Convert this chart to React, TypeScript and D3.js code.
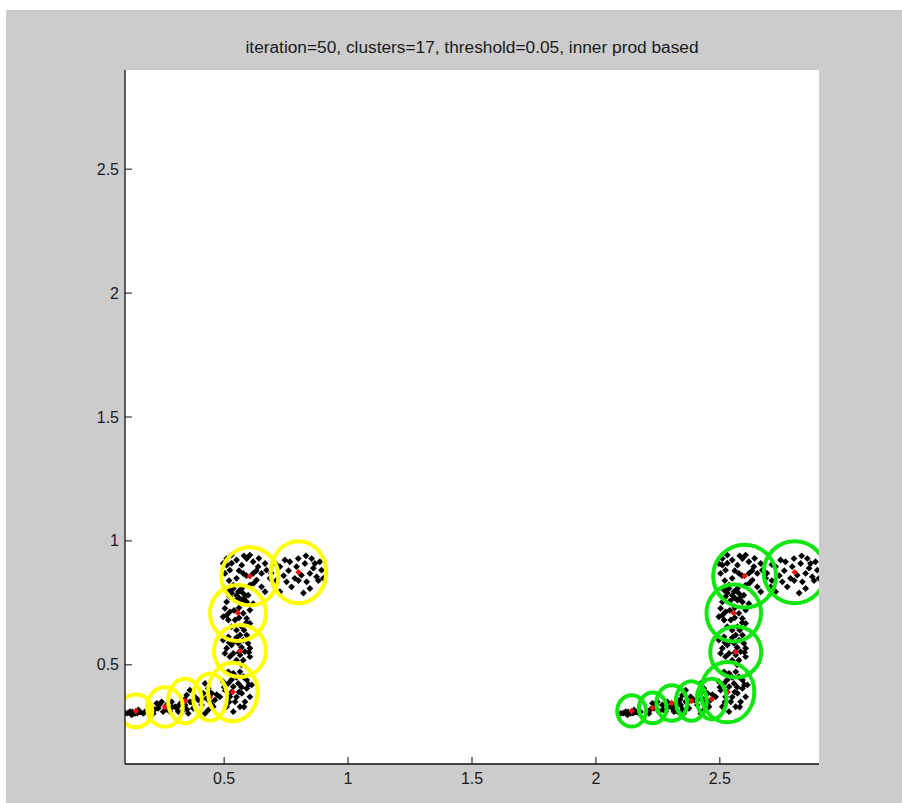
import React from "react";
import * as d3 from "d3";

const titleText = "iteration=50, clusters=17, threshold=0.05, inner prod based";
const xDomain = [0.1, 2.9];
const yDomain = [0.1, 2.9];
const xTicks = [0.5, 1, 1.5, 2, 2.5];
const yTicks = [0.5, 1, 1.5, 2, 2.5];
const tickLabels = ["0.5", "1", "1.5", "2", "2.5"];

const leftPoints: [number, number][] = [
  [0.671,0.882],[0.685,0.849],[0.705,0.815],[0.725,0.896],[0.745,0.923],[0.765,0.916],[0.785,0.849],[0.792,0.896],[0.812,0.862],[0.833,0.835],[0.846,0.808],[0.853,0.929],[0.866,0.909],[0.886,0.916],[0.893,0.882],[0.873,0.855],[0.772,0.815],[0.752,0.835],[0.725,0.795],[0.826,0.909],[0.846,0.869],[0.799,0.929],[0.9,0.849],
  [0.69,0.87],[0.71,0.905],[0.74,0.86],[0.76,0.88],[0.8,0.84],[0.82,0.79],[0.86,0.89],[0.88,0.84],[0.83,0.94],[0.71,0.84],
  [0.496,0.909],[0.51,0.929],[0.53,0.943],[0.55,0.923],[0.571,0.902],[0.591,0.929],[0.617,0.916],[0.637,0.896],[0.651,0.869],[0.631,0.842],[0.604,0.822],[0.577,0.869],[0.55,0.849],[0.523,0.882],[0.503,0.869],[0.537,0.822],[0.571,0.808],[0.651,0.815],[0.665,0.795],[0.617,0.869],[0.51,0.902],[0.604,0.943],[0.665,0.909],
  [0.52,0.84],[0.56,0.88],[0.59,0.86],[0.63,0.88],[0.64,0.93],[0.58,0.94],[0.53,0.91],[0.62,0.83],
  [0.517,0.802],[0.537,0.808],[0.557,0.795],[0.577,0.788],[0.597,0.781],[0.571,0.761],[0.544,0.761],[0.523,0.775],[0.591,0.754],[0.503,0.728],[0.523,0.714],[0.496,0.694],[0.517,0.681],[0.544,0.681],[0.577,0.708],[0.591,0.687],[0.604,0.721],[0.571,0.654],[0.55,0.64],[0.53,0.654],[0.604,0.667],[0.617,0.747],[0.51,0.754],
  [0.53,0.79],[0.55,0.78],[0.56,0.77],[0.58,0.77],[0.56,0.73],[0.54,0.72],[0.51,0.7],[0.56,0.69],[0.59,0.67],[0.58,0.64],
  [0.496,0.6],[0.517,0.613],[0.537,0.593],[0.557,0.587],[0.577,0.6],[0.597,0.587],[0.604,0.567],[0.584,0.553],[0.564,0.54],[0.537,0.546],[0.51,0.567],[0.523,0.533],[0.55,0.519],[0.577,0.519],[0.604,0.533],[0.503,0.546],[0.591,0.62],[0.564,0.62],
  [0.55,0.61],[0.53,0.58],[0.57,0.57],[0.59,0.6],[0.52,0.59],[0.56,0.55],[0.6,0.55],[0.57,0.5],
  [0.517,0.472],[0.537,0.466],[0.564,0.472],[0.577,0.452],[0.496,0.432],[0.517,0.425],[0.537,0.412],[0.503,0.398],[0.523,0.371],[0.544,0.351],[0.571,0.385],[0.591,0.405],[0.604,0.371],[0.584,0.351],[0.564,0.331],[0.537,0.311],[0.51,0.331],[0.591,0.439],[0.611,0.419],[0.483,0.371],[0.557,0.425],
  [0.55,0.45],[0.53,0.44],[0.5,0.41],[0.56,0.39],[0.52,0.35],[0.58,0.33],[0.6,0.42],[0.55,0.37],[0.53,0.39],[0.57,0.41],
  [0.423,0.425],[0.436,0.405],[0.416,0.385],[0.429,0.365],[0.443,0.351],[0.456,0.331],[0.436,0.318],[0.409,0.338],[0.396,0.358],[0.45,0.385],[0.463,0.358],[0.423,0.304],
  [0.44,0.39],[0.41,0.36],[0.45,0.34],[0.47,0.38],
  [0.362,0.398],[0.349,0.378],[0.329,0.351],[0.342,0.338],[0.362,0.351],[0.375,0.325],[0.329,0.311],[0.308,0.325],[0.355,0.304],[0.382,0.371],
  [0.34,0.36],[0.32,0.34],[0.37,0.35],[0.35,0.32],
  [0.228,0.345],[0.248,0.351],[0.268,0.338],[0.288,0.351],[0.302,0.331],[0.281,0.311],[0.254,0.311],[0.234,0.325],[0.315,0.311],[0.214,0.304],
  [0.24,0.34],[0.27,0.32],[0.29,0.33],[0.22,0.32],
  [0.1,0.304],[0.12,0.311],[0.14,0.304],[0.16,0.311],[0.174,0.304],[0.127,0.298],[0.154,0.318],
  [0.11,0.305],[0.15,0.305],[0.13,0.31],[0.18,0.31]
];

const rightPoints: [number, number][] = [
  [2.671,0.882],[2.685,0.849],[2.705,0.815],[2.725,0.896],[2.745,0.923],[2.765,0.916],[2.785,0.849],[2.792,0.896],[2.812,0.862],[2.833,0.835],[2.846,0.808],[2.853,0.929],[2.866,0.909],[2.886,0.916],[2.893,0.882],[2.873,0.855],[2.772,0.815],[2.752,0.835],[2.725,0.795],[2.826,0.909],[2.846,0.869],[2.799,0.929],[2.9,0.849],
  [2.69,0.87],[2.71,0.905],[2.74,0.86],[2.76,0.88],[2.8,0.84],[2.82,0.79],[2.86,0.89],[2.88,0.84],[2.83,0.94],[2.71,0.84],
  [2.496,0.909],[2.51,0.929],[2.53,0.943],[2.55,0.923],[2.571,0.902],[2.591,0.929],[2.617,0.916],[2.637,0.896],[2.651,0.869],[2.631,0.842],[2.604,0.822],[2.577,0.869],[2.55,0.849],[2.523,0.882],[2.503,0.869],[2.537,0.822],[2.571,0.808],[2.651,0.815],[2.665,0.795],[2.617,0.869],[2.51,0.902],[2.604,0.943],[2.665,0.909],
  [2.52,0.84],[2.56,0.88],[2.59,0.86],[2.63,0.88],[2.64,0.93],[2.58,0.94],[2.53,0.91],[2.62,0.83],
  [2.517,0.802],[2.537,0.808],[2.557,0.795],[2.577,0.788],[2.597,0.781],[2.571,0.761],[2.544,0.761],[2.523,0.775],[2.591,0.754],[2.503,0.728],[2.523,0.714],[2.496,0.694],[2.517,0.681],[2.544,0.681],[2.577,0.708],[2.591,0.687],[2.604,0.721],[2.571,0.654],[2.55,0.64],[2.53,0.654],[2.604,0.667],[2.617,0.747],[2.51,0.754],
  [2.53,0.79],[2.55,0.78],[2.56,0.77],[2.58,0.77],[2.56,0.73],[2.54,0.72],[2.51,0.7],[2.56,0.69],[2.59,0.67],[2.58,0.64],
  [2.496,0.6],[2.517,0.613],[2.537,0.593],[2.557,0.587],[2.577,0.6],[2.597,0.587],[2.604,0.567],[2.584,0.553],[2.564,0.54],[2.537,0.546],[2.51,0.567],[2.523,0.533],[2.55,0.519],[2.577,0.519],[2.604,0.533],[2.503,0.546],[2.591,0.62],[2.564,0.62],
  [2.55,0.61],[2.53,0.58],[2.57,0.57],[2.59,0.6],[2.52,0.59],[2.56,0.55],[2.6,0.55],[2.57,0.5],
  [2.517,0.472],[2.537,0.466],[2.564,0.472],[2.577,0.452],[2.496,0.432],[2.517,0.425],[2.537,0.412],[2.503,0.398],[2.523,0.371],[2.544,0.351],[2.571,0.385],[2.591,0.405],[2.604,0.371],[2.584,0.351],[2.564,0.331],[2.537,0.311],[2.51,0.331],[2.591,0.439],[2.611,0.419],[2.483,0.371],[2.557,0.425],
  [2.55,0.45],[2.53,0.44],[2.5,0.41],[2.56,0.39],[2.52,0.35],[2.58,0.33],[2.6,0.42],[2.55,0.37],[2.53,0.39],[2.57,0.41],
  [2.423,0.425],[2.436,0.405],[2.416,0.385],[2.429,0.365],[2.443,0.351],[2.456,0.331],[2.436,0.318],[2.409,0.338],[2.396,0.358],[2.45,0.385],[2.463,0.358],[2.423,0.304],
  [2.44,0.39],[2.41,0.36],[2.45,0.34],[2.47,0.38],
  [2.362,0.398],[2.349,0.378],[2.329,0.351],[2.342,0.338],[2.362,0.351],[2.375,0.325],[2.329,0.311],[2.308,0.325],[2.355,0.304],[2.382,0.371],
  [2.34,0.36],[2.32,0.34],[2.37,0.35],[2.35,0.32],
  [2.228,0.345],[2.248,0.351],[2.268,0.338],[2.288,0.351],[2.302,0.331],[2.281,0.311],[2.254,0.311],[2.234,0.325],[2.315,0.311],[2.214,0.304],
  [2.24,0.34],[2.27,0.32],[2.29,0.33],[2.22,0.32],
  [2.1,0.304],[2.12,0.311],[2.14,0.304],[2.16,0.311],[2.174,0.304],[2.127,0.298],[2.154,0.318],
  [2.11,0.305],[2.15,0.305],[2.13,0.31],[2.18,0.31]
];

// [cx, cy, rx, ry]
const yellowClusters: [number, number, number, number][] = [
  [0.8, 0.874, 0.112, 0.125],
  [0.604, 0.857, 0.115, 0.117],
  [0.556, 0.709, 0.113, 0.113],
  [0.564, 0.556, 0.105, 0.105],
  [0.535, 0.39, 0.1, 0.118],
  [0.443, 0.37, 0.068, 0.095],
  [0.342, 0.354, 0.068, 0.09],
  [0.261, 0.33, 0.072, 0.08],
  [0.144, 0.314, 0.066, 0.066]
];

const greenClusters: [number, number, number, number][] = [
  [2.802, 0.874, 0.125, 0.125],
  [2.6, 0.858, 0.127, 0.127],
  [2.556, 0.709, 0.11, 0.115],
  [2.564, 0.552, 0.103, 0.103],
  [2.531, 0.39, 0.108, 0.122],
  [2.467, 0.362, 0.06, 0.082],
  [2.385, 0.354, 0.062, 0.08],
  [2.306, 0.346, 0.062, 0.072],
  [2.229, 0.326, 0.056, 0.062],
  [2.144, 0.314, 0.058, 0.063]
];

const W = 902;
const H = 803;
const L = 125, R = 819, T = 70, B = 764;

export default function App() {
  const x = d3.scaleLinear().domain(xDomain).range([L, R]);
  const y = d3.scaleLinear().domain(yDomain).range([B, T]);
  const diamond = (px: number, py: number, s: number) =>
    `M${px},${py - s}L${px + s},${py}L${px},${py + s}L${px - s},${py}Z`;
  const font = "'Liberation Sans', Arial, sans-serif";
  const allPts = [...leftPoints, ...rightPoints];
  const ptsPath = allPts.map(([a, b]) => diamond(x(a), y(b), 3.4)).join("");
  const centers = [...yellowClusters, ...greenClusters];
  const redPath = centers.map(([a, b]) => diamond(x(a), y(b), 3.2)).join("");
  const sx = (R - L) / (xDomain[1] - xDomain[0]);
  const sy = (B - T) / (yDomain[1] - yDomain[0]);

  return (
    <svg width={W} height={H} style={{ position: "absolute", left: 0, top: 0 }}>
      <defs>
        <clipPath id="plotclip">
          <rect x={L} y={T} width={R - L} height={B - T} />
        </clipPath>
      </defs>
      <rect x={0} y={0} width={W} height={H} fill="#ffffff" />
      <rect x={6} y={10} width={W - 6} height={H - 10} fill="#cccccc" />
      <rect x={L} y={T} width={R - L} height={B - T} fill="#ffffff" />
      <g clipPath="url(#plotclip)">
        <path d={ptsPath} fill="#000000" />
        <path d={redPath} fill="#ee1111" />
        {yellowClusters.map(([a, b, rx, ry], i) => (
          <ellipse key={"y" + i} cx={x(a)} cy={y(b)} rx={rx * sx} ry={ry * sy}
            fill="none" stroke="#ffff00" strokeWidth={4} />
        ))}
        {greenClusters.map(([a, b, rx, ry], i) => (
          <ellipse key={"g" + i} cx={x(a)} cy={y(b)} rx={rx * sx} ry={ry * sy}
            fill="none" stroke="#11e611" strokeWidth={4} />
        ))}
      </g>
      <line x1={L} y1={T} x2={L} y2={B} stroke="#111" strokeWidth={1.3} />
      <line x1={L} y1={B} x2={R} y2={B} stroke="#111" strokeWidth={1.3} />
      {xTicks.map((t, i) => (
        <g key={"xt" + i}>
          <line x1={x(t)} x2={x(t)} y1={B} y2={B - 7} stroke="#111" strokeWidth={1} />
          <text x={x(t)} y={B + 20} textAnchor="middle" fontFamily={font} fontSize={16} fill="#1a1a1a">
            {tickLabels[i]}
          </text>
        </g>
      ))}
      {yTicks.map((t, i) => (
        <g key={"yt" + i}>
          <line x1={L} x2={L + 7} y1={y(t)} y2={y(t)} stroke="#111" strokeWidth={1} />
          <text x={L - 6} y={y(t) + 5.5} textAnchor="end" fontFamily={font} fontSize={16} fill="#1a1a1a">
            {tickLabels[i]}
          </text>
        </g>
      ))}
      <text x={(L + R) / 2} y={53} textAnchor="middle" fontFamily={font} fontSize={16}
        textLength={453} lengthAdjust="spacingAndGlyphs" fill="#1a1a1a">
        {titleText}
      </text>
    </svg>
  );
}
